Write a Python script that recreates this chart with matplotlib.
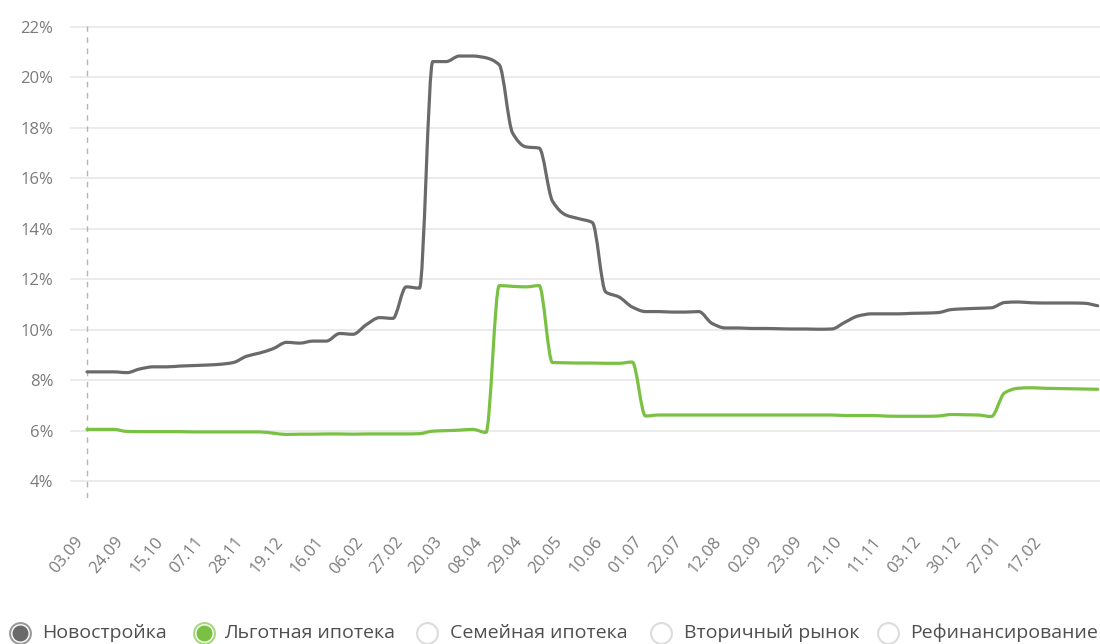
import matplotlib
matplotlib.use("Agg")
import matplotlib.pyplot as plt
from matplotlib.lines import Line2D
from matplotlib.path import Path
from matplotlib.patches import PathPatch

plt.rcParams["font.family"] = ["Open Sans", "DejaVu Sans"]

# Weekly observations; every third one carries a date label
tick_labels = ["03.09", "24.09", "15.10", "07.11", "28.11", "19.12", "16.01",
               "06.02", "27.02", "20.03", "08.04", "29.04", "20.05", "10.06",
               "01.07", "22.07", "12.08", "02.09", "23.09", "21.10", "11.11",
               "03.12", "30.12", "27.01", "17.02"]

novostroyka = [8.33, 8.33, 8.33, 8.30, 8.45, 8.53, 8.53, 8.56, 8.58, 8.60,
               8.63, 8.70, 8.95, 9.08, 9.25, 9.50, 9.47, 9.55, 9.55, 9.85,
               9.82, 10.20, 10.48, 10.45, 11.70, 11.65, 20.63, 20.63, 20.85, 20.85,
               20.78, 20.50, 17.80, 17.25, 17.20, 15.10, 14.55, 14.40, 14.25, 11.50,
               11.30, 10.90, 10.72, 10.72, 10.70, 10.70, 10.72, 10.25, 10.07, 10.07,
               10.05, 10.05, 10.04, 10.03, 10.03, 10.02, 10.03, 10.30, 10.55, 10.63,
               10.63, 10.63, 10.65, 10.66, 10.68, 10.80, 10.83, 10.85, 10.87, 11.08,
               11.10, 11.07, 11.06, 11.06, 11.06, 11.05, 10.95]

lgotnaya = [6.05, 6.05, 6.05, 5.97, 5.96, 5.96, 5.96, 5.96, 5.95, 5.95,
            5.95, 5.95, 5.95, 5.95, 5.90, 5.85, 5.86, 5.86, 5.87, 5.87,
            5.86, 5.87, 5.87, 5.87, 5.87, 5.88, 5.98, 6.00, 6.02, 6.05,
            5.93, 11.75, 11.72, 11.70, 11.75, 8.70, 8.69, 8.68, 8.68, 8.67,
            8.67, 8.72, 6.58, 6.62, 6.62, 6.62, 6.62, 6.62, 6.62, 6.62,
            6.62, 6.62, 6.62, 6.62, 6.62, 6.62, 6.62, 6.60, 6.60, 6.60,
            6.58, 6.57, 6.57, 6.57, 6.58, 6.64, 6.63, 6.62, 6.56, 7.50,
            7.68, 7.70, 7.68, 7.67, 7.66, 7.65, 7.64]

legend_names = ["Новостройка", "Льготная ипотека", "Семейная ипотека",
                "Вторичный рынок", "Рефинансирование"]

y_ticks = [4, 6, 8, 10, 12, 14, 16, 18, 20, 22]

GRAY = "#6a6a6a"
GREEN = "#7ac143"
TEXT = "#7b7b7b"


def monotone_path(xs, ys):
    """Cubic Bezier path through the points with monotone (Fritsch-Carlson) tangents."""
    n = len(xs)
    d = [(ys[i + 1] - ys[i]) / (xs[i + 1] - xs[i]) for i in range(n - 1)]
    m = [0.0] * n
    m[0], m[-1] = d[0], d[-1]
    for i in range(1, n - 1):
        if d[i - 1] * d[i] <= 0:
            m[i] = 0.0
        else:
            m[i] = 2.0 / (1.0 / d[i - 1] + 1.0 / d[i])
    verts = [(xs[0], ys[0])]
    codes = [Path.MOVETO]
    for i in range(n - 1):
        h = (xs[i + 1] - xs[i]) / 3.0
        verts += [(xs[i] + h, ys[i] + m[i] * h),
                  (xs[i + 1] - h, ys[i + 1] - m[i + 1] * h),
                  (xs[i + 1], ys[i + 1])]
        codes += [Path.CURVE4] * 3
    return Path(verts, codes)


fig = plt.figure(figsize=(11, 6.44), dpi=100)
ax = fig.add_axes([0.0636, 0.2267, 0.9364, 0.7329])

x = list(range(len(novostroyka)))
for series, col in ((novostroyka, GRAY), (lgotnaya, GREEN)):
    ax.add_patch(PathPatch(monotone_path(x, series), facecolor="none",
                           edgecolor=col, lw=2.3, joinstyle="round",
                           capstyle="round", zorder=3))

ax.set_xlim(-1.28, 76.17)
ax.set_ylim(3.33, 22.04)

ax.set_yticks(y_ticks)
ax.set_yticklabels([f"{v}%" for v in y_ticks])
ax.grid(axis="y", color="#ebebeb", lw=1.4)
ax.set_axisbelow(True)

tick_pos = list(range(0, 3 * len(tick_labels), 3))
ax.set_xticks(tick_pos)
ax.set_xticklabels(tick_labels, rotation=50, ha="right", va="top")

ax.tick_params(axis="y", length=0, pad=12, labelsize=12, labelcolor=TEXT)
ax.tick_params(axis="x", length=0, pad=26, labelsize=12, labelcolor=TEXT)

for s in ax.spines.values():
    s.set_visible(False)

# dashed marker line at the first observation
ax.axvline(0, color="#b5b5b5", lw=1, ls=(0, (4, 4)), zorder=1)

# legend row along the bottom edge
marker_x = [20, 204, 427, 661, 888]
text_x = [42, 224, 450, 684, 910]
row_y = 633
fills = [GRAY, GREEN, "white", "white", "white"]
rings = ["#9a9a9a", "#a6d97f", "#dcdcdc", "#dcdcdc", "#dcdcdc"]
W, H = 1100, 644
for mx, tx, name, fc, rc in zip(marker_x, text_x, legend_names, fills, rings):
    fy = 1 - row_y / H
    fig.add_artist(Line2D([mx / W], [fy], marker="o", markersize=15,
                          markerfacecolor="white", markeredgecolor=rc,
                          markeredgewidth=1.5, transform=fig.transFigure))
    if fc != "white":
        fig.add_artist(Line2D([mx / W], [fy], marker="o", markersize=10.5,
                              markerfacecolor=fc, markeredgecolor=fc,
                              transform=fig.transFigure))
    fig.text(tx / W, fy, name, fontsize=14, color="#4f4f4f",
             ha="left", va="center")

fig.savefig("out.png", dpi=100, facecolor="white")
